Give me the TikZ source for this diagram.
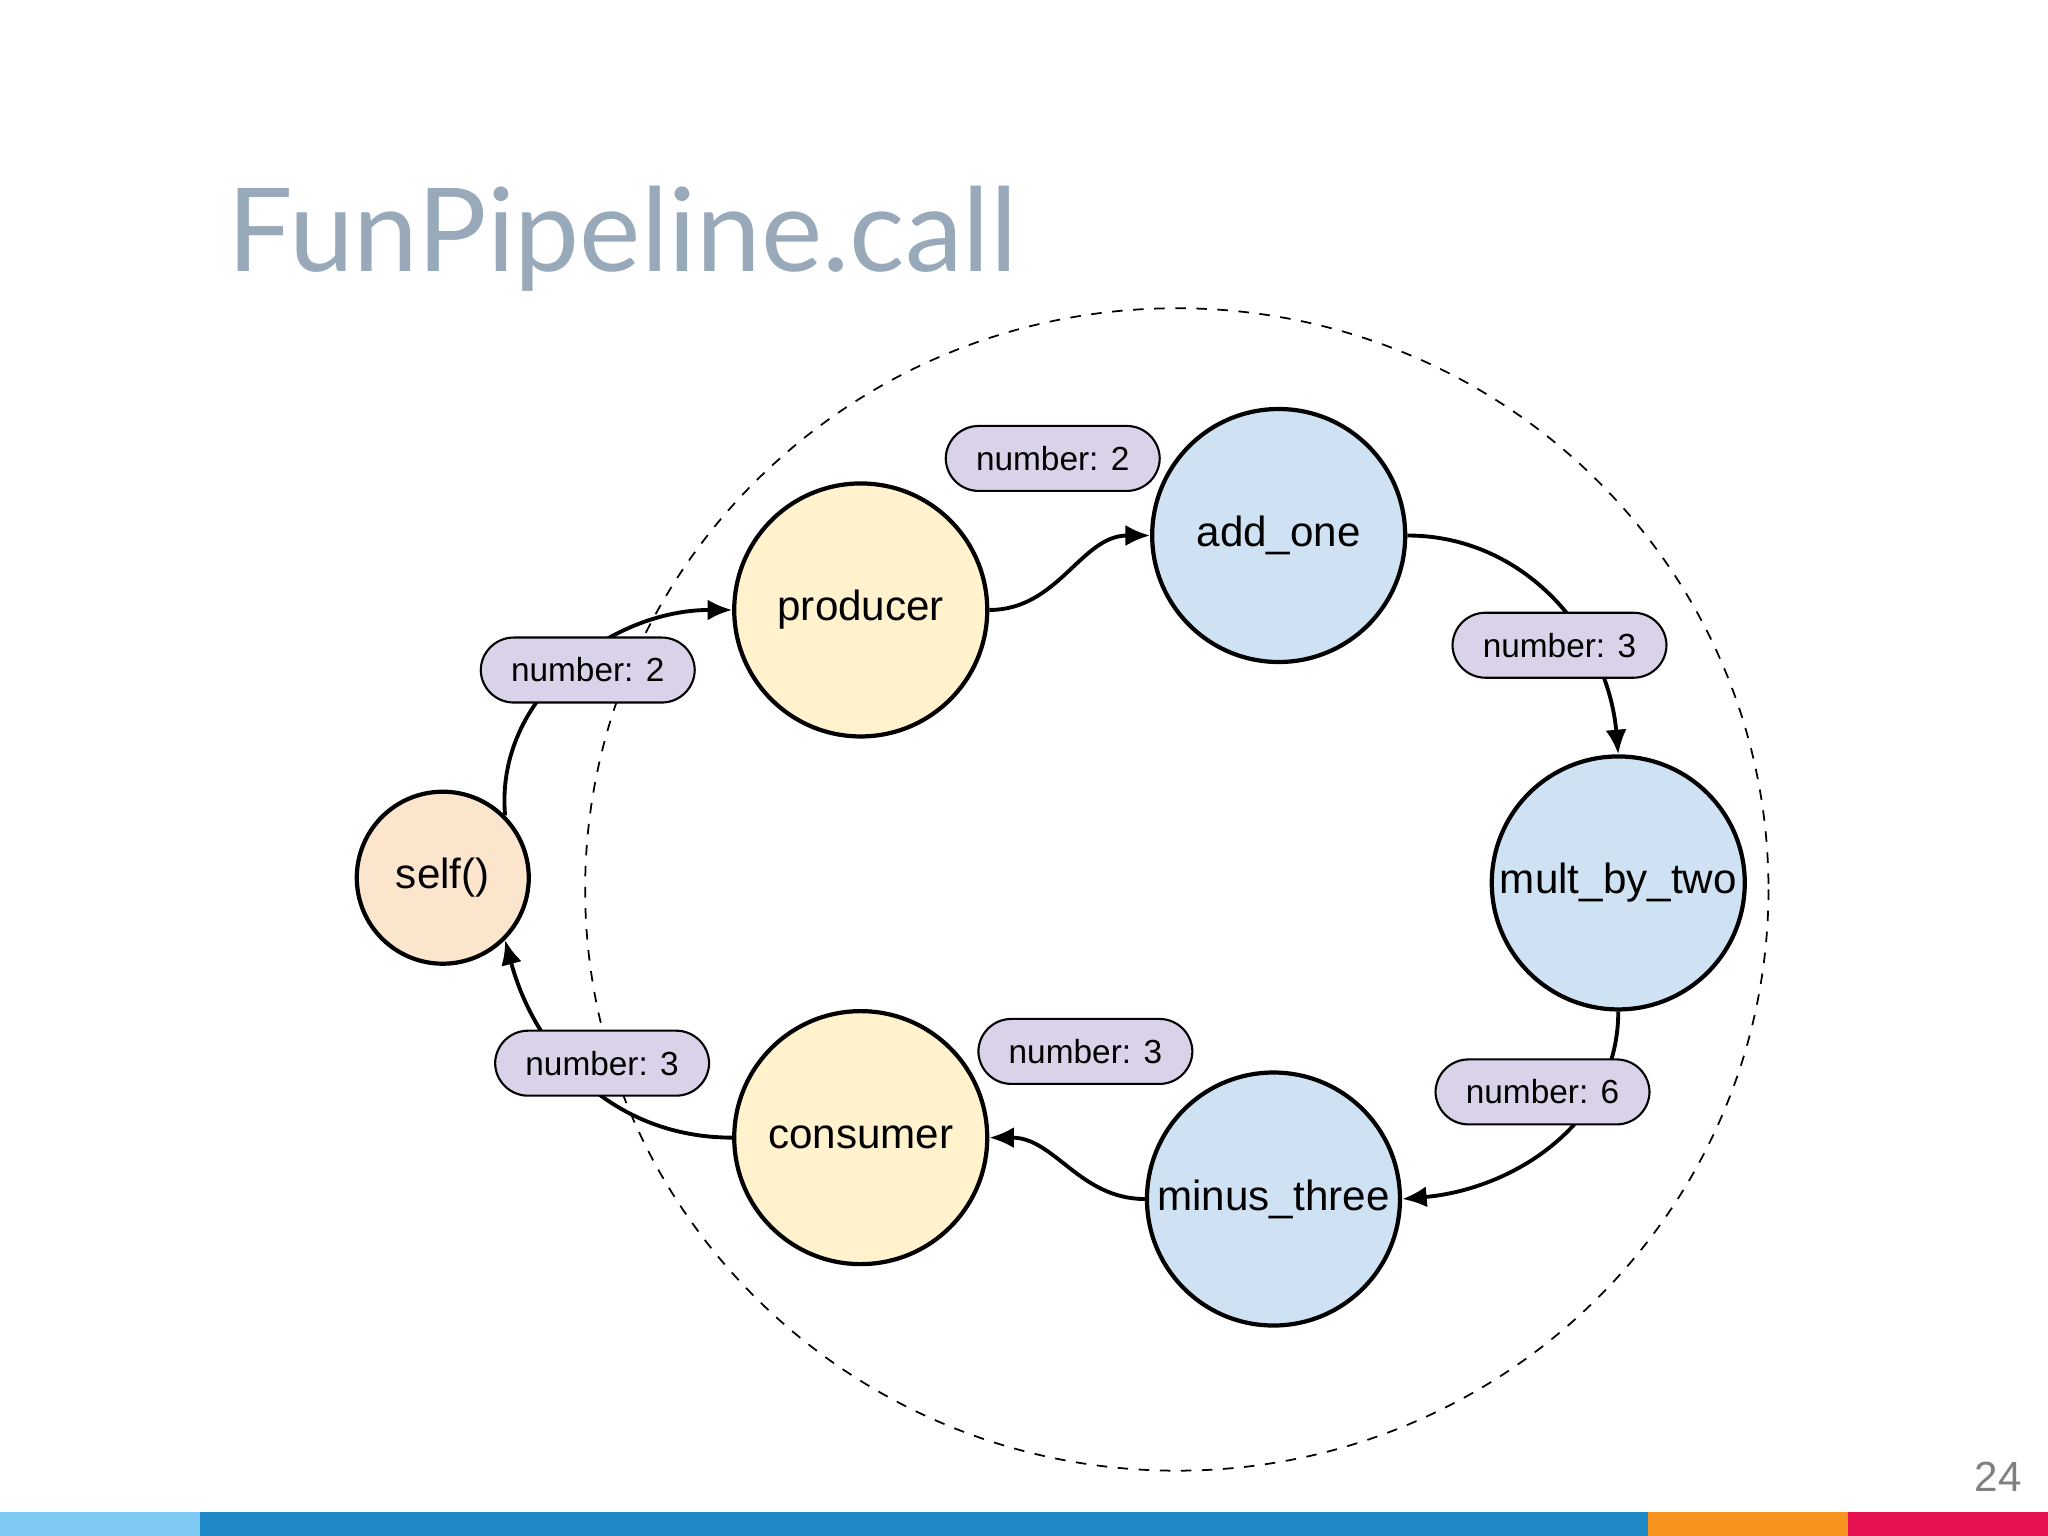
\documentclass[tikz,border=0pt]{standalone}
\usepackage{fontspec}
\setmainfont{Liberation Sans}
\newfontfamily\titlefont{Lato}
\usetikzlibrary{arrows.meta}
\definecolor{prodfill}{HTML}{FFF2CC}
\definecolor{stepfill}{HTML}{CFE2F3}
\definecolor{selffill}{HTML}{FCE5CD}
\definecolor{msgfill}{HTML}{D9D2E9}
\definecolor{titlegray}{RGB}{152,170,186}
\definecolor{barlight}{HTML}{7FCAF5}
\definecolor{barblue}{HTML}{1F88C6}
\definecolor{barorange}{HTML}{F7941D}
\definecolor{barred}{HTML}{E8114F}
\tikzset{
  stage/.style={circle,draw,line width=1.2pt,minimum size=2.53cm,inner sep=0pt,font=\fontsize{12}{14}\selectfont},
  msg/.style={rounded corners=0.33cm,draw,line width=0.6pt,fill=msgfill,minimum width=2.14cm,minimum height=0.65cm,font=\fontsize{9.5}{11}\selectfont},
  flow/.style={line width=1.1pt,-{Latex[length=7pt,width=6pt]}}
}
\begin{document}
\begin{tikzpicture}[x=0.013061cm,y=-0.013061cm]
\useasboundingbox (0,0) rectangle (1568,1176);
\fill[white] (0,0) rectangle (1568,1176);
\node[anchor=base west,text=titlegray,font=\titlefont\fontsize{33}{36}\selectfont] (title) at (165,208) {FunPipeline.call};
\draw[dashed,line width=0.5pt] (901,681) ellipse [x radius=453,y radius=445];
\node[stage,fill=selffill,minimum size=1.72cm] (self) at (339,672) {self()};
\node[stage,fill=prodfill] (producer) at (659,467) {producer};
\node[stage,fill=stepfill] (add) at (979,410) {add\_one};
\node[stage,fill=stepfill] (mult) at (1239,676) {mult\_by\_two};
\node[stage,fill=stepfill] (minus) at (975,918) {minus\_three};
\node[stage,fill=prodfill] (consumer) at (659,871) {consumer};
% connectors
\draw[flow] (self.45) to[out=95,in=180] (producer.west);
\draw[flow] (producer.east) to[out=0,in=180] (add.west);
\draw[flow] (add.east) to[out=0,in=95] (mult.north);
\draw[flow] (mult.south) to[out=-90,in=5] (minus.east);
\draw[flow] (minus.west) to[out=180,in=0] (consumer.east);
\draw[flow] (consumer.west) to[out=180,in=-75] (self.-45);
% messages
\node[msg] (m1) at (806,351) {number: 2};
\node[msg] (m2) at (450,513) {number: 2};
\node[msg] (m3) at (1194,494) {number: 3};
\node[msg] (m4) at (1181,836) {number: 6};
\node[msg] (m5) at (831,805) {number: 3};
\node[msg] (m6) at (461,814) {number: 3};
% footer
\fill[barlight] (0,1158) rectangle (153,1176);
\fill[barblue] (153,1158) rectangle (1262,1176);
\fill[barorange] (1262,1158) rectangle (1415,1176);
\fill[barred] (1415,1158) rectangle (1568,1176);
\node[text=gray,font=\fontsize{12}{14}\selectfont] (page) at (1530,1131) {24};
\end{tikzpicture}
\end{document}
